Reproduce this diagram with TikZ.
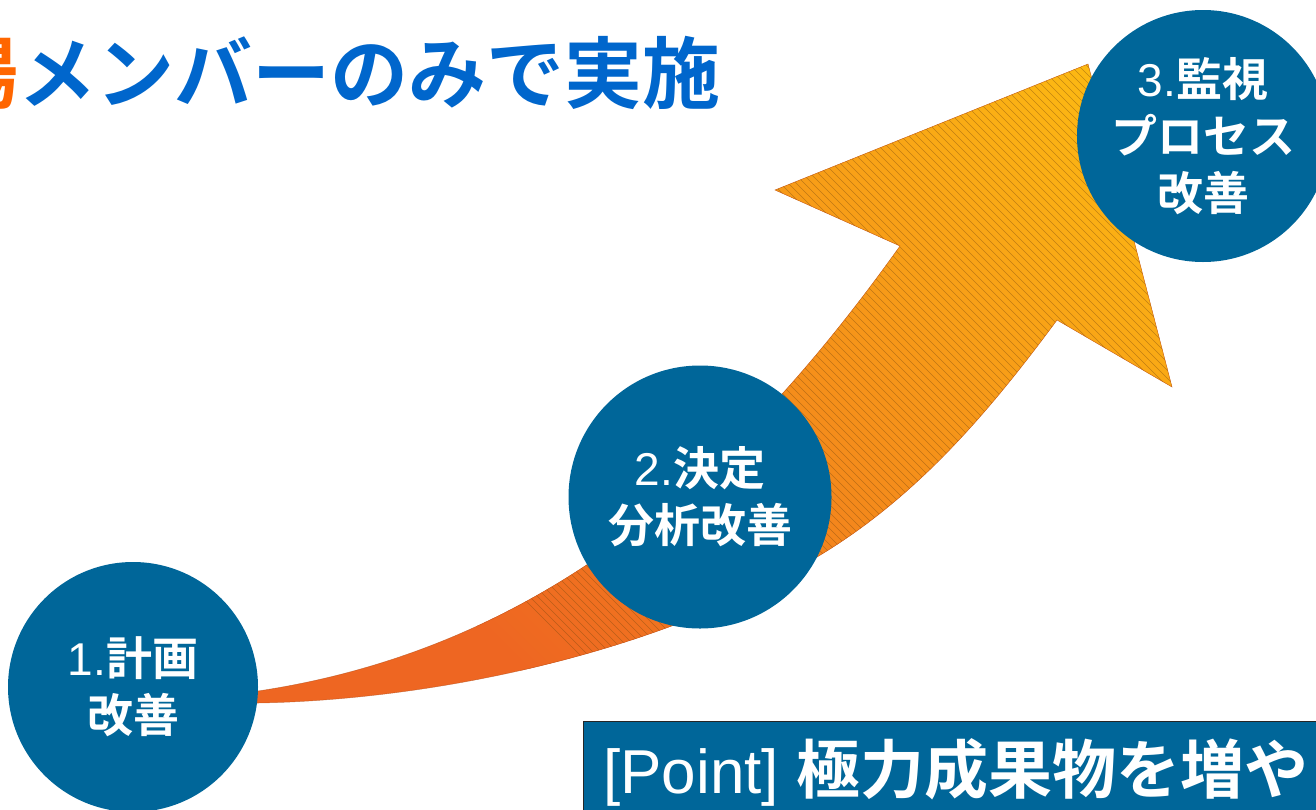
\documentclass[tikz,border=0pt]{standalone}
\usepackage{fontspec}
\setmainfont{Liberation Sans}
\newfontfamily\jp{Noto Sans CJK JP}[BoldFont={Noto Sans CJK JP Bold}]
\newfontfamily\lat{Liberation Sans}
\newcommand{\jpb}{\jp\bfseries}
\definecolor{circblue}{HTML}{006699}
\definecolor{titleblue}{HTML}{0066CC}
\definecolor{titleorange}{HTML}{FF6600}
\definecolor{arrO}{HTML}{EE6622}
\definecolor{arrY}{HTML}{FDBA12}
\definecolor{hatchc}{HTML}{7A4A10}
\def\arrowpath{(240,693) -- (258,691) .. controls (558,646) and (750,456) .. (900,246) -- (775,190) -- (1088,64) -- (1172,387) -- (1057,320) .. controls (989,412) and (916,498) .. (817,557) .. controls (655,655) and (430,700) .. (258,703) -- (240,704) -- cycle}
\begin{document}
\begin{tikzpicture}[x=1pt,y=-1pt,
  circ/.style={circle, fill=circblue, inner sep=0pt, text=white, align=center,
    font=\fontsize{46}{57}\selectfont},
  hatch/.style={draw=hatchc, draw opacity=0.45, line width=0.45pt},
  arrowedge/.style={draw=arrO!75!black, draw opacity=0.6, line width=0.5pt}]
\useasboundingbox (0,0) rectangle (1316,809);
% arrow
\begin{scope}
  \clip \arrowpath;
  \fill[arrO] (0,0) rectangle (1316,809);
  \foreach \k in {-150,-138,...,1050} {
    \pgfmathsetmacro\p{min(100,max(0,(\k+150)/11.8))}
    \fill[arrY!\p!arrO] (\k-300,-300) -- (\k+1200,1200) -- (\k+1214,1200) -- (\k-286,-300) -- cycle;
  }
  \foreach \k in {-75,-67,...,1040}
    \draw[hatch] (\k-300,-300) -- (\k+1200,1200);
\end{scope}
\path[arrowedge] \arrowpath;
% title
\node[anchor=base west, inner sep=0pt, font=\jpb\fontsize{78}{78}\selectfont] (title) at (-60,102)
  {\textcolor{titleorange}{場}\textcolor{titleblue}{メンバーのみで実施}};
% circles
\node[circ, minimum size=250pt] (c1) at (133,687) {{\lat 1.}{\jpb 計画}\\{\jpb 改善}};
\node[circ, minimum size=263pt] (c2) at (700,497) {{\lat 2.}{\jpb 決定}\\{\jpb 分析改善}};
\node[circ, minimum size=252pt] (c3) at (1203,136) {{\lat 3.}{\jpb 監視}\\{\jpb プロセス}\\{\jpb 改善}};
% point box
\node[draw=black!85, line width=1pt, fill=circblue, anchor=north west, minimum width=900pt,
  minimum height=200pt, inner sep=0pt] (box) at (583,721) {};
\node[anchor=base west, inner sep=0pt, text=white, font=\fontsize{62}{62}\selectfont] (pt) at (603,793)
  {{\lat [Point]} {\jpb\fontsize{64}{64}\selectfont 極力成果物を増や}};
\end{tikzpicture}
\end{document}
